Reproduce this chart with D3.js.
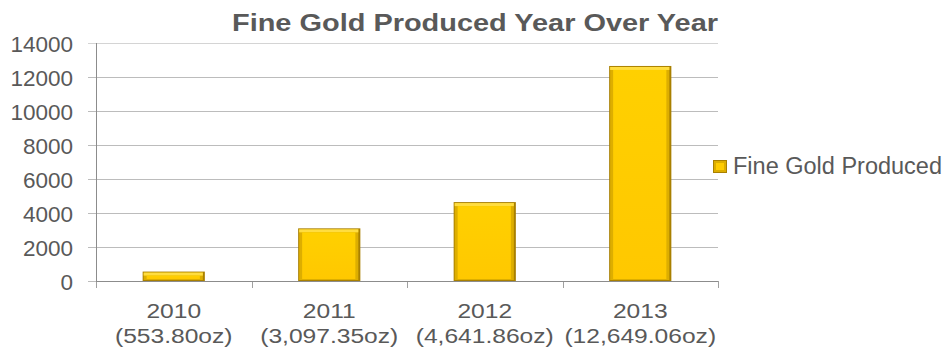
<!DOCTYPE html>
<html><head><meta charset="utf-8">
<script src="https://cdn.jsdelivr.net/npm/d3@7"></script>
<style>
body{margin:0;background:#fff;}
svg{font-family:"Liberation Sans",Arial,sans-serif;}
</style></head>
<body>
<svg id="chart" width="949" height="354"></svg>
<script>
const years = ["2010","2011","2012","2013"];
const amountLabels = ["(553.80oz)","(3,097.35oz)","(4,641.86oz)","(12,649.06oz)"];
const values = [553.80, 3097.35, 4641.86, 12649.06];
const yTicks = [0,2000,4000,6000,8000,10000,12000,14000];
const seriesName = "Fine Gold Produced";
const title = "Fine Gold Produced Year Over Year";

const svg = d3.select("#chart");
const pLeft = 96, pRight = 718, pTop = 43, pBottom = 281;
const x = d3.scaleBand().domain(years).range([pLeft, pRight]).paddingInner(0.6).paddingOuter(0.3);
const xb = d3.scaleBand().domain(years).range([pLeft, pRight]);
const y = d3.scaleLinear().domain([0,14000]).range([pBottom, pTop]);
const textCol = "#595959";

const defs = svg.append("defs");
const g1 = defs.append("linearGradient").attr("id","gold").attr("x1","0").attr("x2","0").attr("y1","0").attr("y2","1");
g1.append("stop").attr("offset","0").attr("stop-color","#FFD000");
g1.append("stop").attr("offset","1").attr("stop-color","#FFC800");

// gridlines
svg.append("g").selectAll("line").data(yTicks).join("line")
  .attr("x1", pLeft-8).attr("x2", pRight)
  .attr("y1", d=>Math.round(y(d))+0.5).attr("y2", d=>Math.round(y(d))+0.5)
  .attr("stroke", d=> d===14000 ? "#d4d4d4" : "#bcbcbc").attr("stroke-width",1);

// y axis line
svg.append("line").attr("x1",pLeft+0.5).attr("x2",pLeft+0.5).attr("y1",pTop).attr("y2",pBottom+7)
  .attr("stroke","#8c8c8c");
// x axis ticks
const xt = years.map(d=>xb(d)).concat([pRight]);
svg.append("g").selectAll("line").data(xt).join("line")
  .attr("x1",d=>Math.round(d)+0.5).attr("x2",d=>Math.round(d)+0.5)
  .attr("y1",pBottom).attr("y2",pBottom+7).attr("stroke","#a0a0a0");
svg.append("line").attr("x1",pLeft).attr("x2",pRight).attr("y1",pBottom+0.5).attr("y2",pBottom+0.5).attr("stroke","#8c8c8c");

// y labels
svg.append("g").selectAll("text").data(yTicks).join("text")
  .attr("x", 73).attr("y", d=>y(d)+8.5).attr("text-anchor","end")
  .attr("font-size",22.5).attr("fill",textCol).text(d=>d);

// bars (bevel)
const bars = svg.append("g").selectAll("g").data(values).join("g");
bars.append("rect")
  .attr("x",(d,i)=>x(years[i])).attr("width",x.bandwidth())
  .attr("y",d=>y(d)).attr("height",d=>pBottom-y(d))
  .attr("fill","#A98000");
bars.append("rect")
  .attr("x",(d,i)=>x(years[i])+1).attr("width",x.bandwidth()-3)
  .attr("y",d=>y(d)+1).attr("height",d=>Math.max(0,pBottom-y(d)-2))
  .attr("fill","#DDAE00");
bars.append("rect")
  .attr("x",(d,i)=>x(years[i])+1).attr("width",x.bandwidth()-3)
  .attr("y",d=>y(d)+1).attr("height",d=>Math.min(3, Math.max(0,pBottom-y(d)-2)))
  .attr("fill","#FFDD40");
bars.append("rect")
  .attr("x",(d,i)=>x(years[i])+4).attr("width",x.bandwidth()-9)
  .attr("y",d=>y(d)+4).attr("height",d=>Math.max(0,pBottom-y(d)-6))
  .attr("fill","url(#gold)");

// category labels (horizontally stretched text, as in the reference)
const sx = 1.2;
const cat = svg.append("g").selectAll("g").data(years).join("g")
  .attr("transform", d=>`translate(${xb(d)+xb.bandwidth()/2},0) scale(${sx},1)`);
cat.append("text").attr("x",0).attr("y",318).attr("text-anchor","middle")
  .attr("font-size",20.5).attr("fill",textCol).text(d=>d);
cat.append("text").attr("x",0).attr("y",343).attr("text-anchor","middle")
  .attr("font-size",20.5).attr("fill",textCol).text((d,i)=>amountLabels[i]);

// title
svg.append("text").attr("x",475).attr("y",31).attr("text-anchor","middle")
  .attr("font-size",24).attr("font-weight","bold").attr("fill",textCol)
  .attr("textLength",486).attr("lengthAdjust","spacingAndGlyphs").text(title);

// legend
const lg = svg.append("g");
lg.append("rect").attr("x",713).attr("y",160).attr("width",14).attr("height",13).attr("fill","#A98000");
lg.append("rect").attr("x",714).attr("y",161).attr("width",12).attr("height",11).attr("fill","#DDAE00");
lg.append("rect").attr("x",716).attr("y",163).attr("width",8).attr("height",7).attr("fill","#FFCC00");
lg.append("text").attr("x",733).attr("y",174).attr("font-size",23.5).attr("fill",textCol).text(seriesName);
</script>
</body></html>
